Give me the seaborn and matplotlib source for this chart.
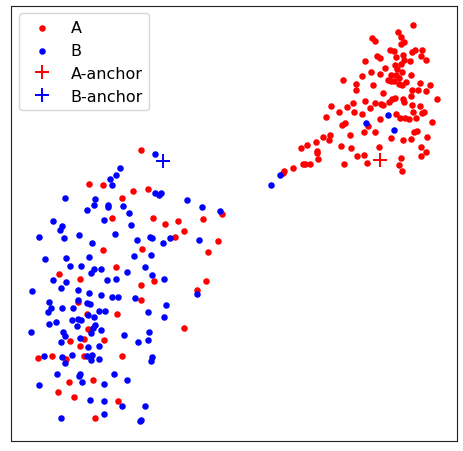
import matplotlib
matplotlib.use("Agg")
import matplotlib.pyplot as plt
import seaborn as sns

# embedding coordinates (screen-like units, y grows downward)
a_x = [413, 398, 401, 372, 375, 404, 401, 390, 394, 412, 415, 422, 403, 421, 377, 380, 396, 404,
       365, 410, 426, 401, 395, 385, 397, 402, 371, 380, 391, 396, 411, 362, 399, 388, 391, 394,
       343, 406, 399, 402, 420, 430, 356, 373, 356, 412, 418, 426, 383, 411, 395, 392, 403, 437,
       365, 353, 375, 381, 383, 389, 404, 331, 347, 370, 412, 420, 339, 354, 362, 396, 413, 422,
       424, 326, 400, 405, 409, 416, 380, 432, 342, 345, 368, 364, 375, 414, 417, 350, 330, 323,
       329, 391, 403, 411, 427, 316, 307, 301, 341, 351, 379, 421, 317, 317, 426, 357, 364, 421,
       401, 318, 303, 305, 310, 344, 367, 399, 293, 402, 284, 283,
       141, 89, 103, 133, 148, 122, 112, 153, 165, 178, 203, 222, 184, 175, 218, 103, 142, 208,
       116, 59, 80, 141, 154, 206, 197, 78, 141, 117, 87, 184, 88, 70, 84, 104, 80, 38, 52, 66,
       84, 122, 69, 93, 58, 74, 118, 95]
a_y = [26, 33, 38, 39, 42, 43, 45, 51, 52, 53, 51, 51, 56, 57, 57, 59, 58, 61, 62, 62, 61, 65,
       66, 69, 70, 73, 73, 75, 76, 76, 76, 77, 79, 81, 82, 82, 81, 83, 85, 86, 84, 86, 85, 86,
       91, 91, 91, 92, 94, 97, 99, 100, 100, 100, 102, 104, 104, 105, 106, 103, 103, 107, 108,
       109, 106, 107, 113, 113, 115, 115, 113, 114, 113, 118, 119, 119, 120, 119, 120, 123, 126,
       124, 127, 133, 133, 133, 132, 136, 136, 138, 141, 139, 141, 140, 138, 143, 146, 149, 147,
       149, 148, 148, 152, 154, 153, 157, 156, 157, 159, 160, 165, 165, 165, 165, 164, 166, 169,
       172, 172, 174,
       151, 185, 186, 192, 190, 199, 219, 219, 225, 222, 220, 215, 232, 238, 242, 251, 250, 253,
       268, 275, 280, 286, 282, 282, 291, 303, 301, 315, 315, 329, 330, 342, 340, 341, 347, 359,
       357, 360, 357, 357, 383, 381, 393, 398, 402, 419]

b_x = [366, 388, 394, 280, 271,
       155, 120, 116, 110, 112, 65, 95, 94, 87, 108, 108, 123, 129, 155, 159, 161, 187, 202, 220,
       104, 53, 62, 60, 39, 64, 79, 115, 131, 92, 137, 150, 152, 163, 170, 199, 45, 66, 89, 134,
       151, 70, 81, 94, 91, 101, 127, 145, 152, 164, 53, 66, 107, 116, 61, 78, 197,
       32, 89, 101, 112, 118, 135, 49, 78, 87, 90, 166, 51, 48, 62, 73, 99, 105, 88, 94, 148, 164,
       49, 56, 72, 78, 81, 77, 95, 93, 101, 91, 31, 63, 65, 61, 80, 88, 99, 124, 138, 148, 149,
       44, 62, 65, 72, 87, 92, 91, 99, 152, 151, 57, 80, 79, 82, 39, 104, 114, 127, 90, 104, 122,
       145, 61, 104, 140, 141]
b_y = [124, 116, 131, 176, 186,
       155, 169, 176, 180, 186, 199, 200, 206, 211, 206, 208, 207, 214, 194, 196, 194, 201, 208,
       212, 221, 222, 227, 231, 238, 239, 236, 235, 226, 244, 241, 238, 239, 244, 239, 241, 260,
       259, 258, 257, 256, 267, 267, 270, 274, 270, 273, 268, 276, 280, 281, 283, 281, 280, 289,
       291, 295,
       292, 294, 296, 298, 298, 299, 303, 301, 304, 305, 306, 309, 313, 309, 309, 312, 312, 316,
       318, 313, 318, 325, 323, 321, 320, 321, 327, 326, 329, 331, 334, 333, 333, 337, 343, 339,
       348, 347, 336, 343, 341, 333, 357, 358, 364, 356, 357, 356, 361, 360, 358, 362, 375, 375,
       377, 383, 386, 385, 375, 381, 401, 402, 407, 407, 419, 415, 422, 421]

anchor_names = ["A-anchor", "B-anchor"]
anchor_x = [380, 163]
anchor_y = [161, 162]
colors = ["red", "blue"]

fig = plt.figure(figsize=(4.64, 4.52), dpi=100)
ax = fig.add_axes([11.5 / 464, 10.5 / 452, 446 / 464, 435 / 452])

sns.scatterplot(x=a_x, y=a_y, color="red", s=22, linewidth=0, label="A", ax=ax)
sns.scatterplot(x=b_x, y=b_y, color="blue", s=22, linewidth=0, label="B", ax=ax)
for name, x, y, c in zip(anchor_names, anchor_x, anchor_y, colors):
    ax.plot([x], [y], marker="+", linestyle="none", color=c, markersize=10, mew=1.4, label=name)

ax.set_xlim(11.5, 457.5)
ax.set_ylim(441.5, 6.5)
ax.set_xticks([])
ax.set_yticks([])
for sp in ax.spines.values():
    sp.set_color("#222222")

ax.legend(loc="upper left", fontsize=11.5)

fig.savefig("out.png", dpi=100)
